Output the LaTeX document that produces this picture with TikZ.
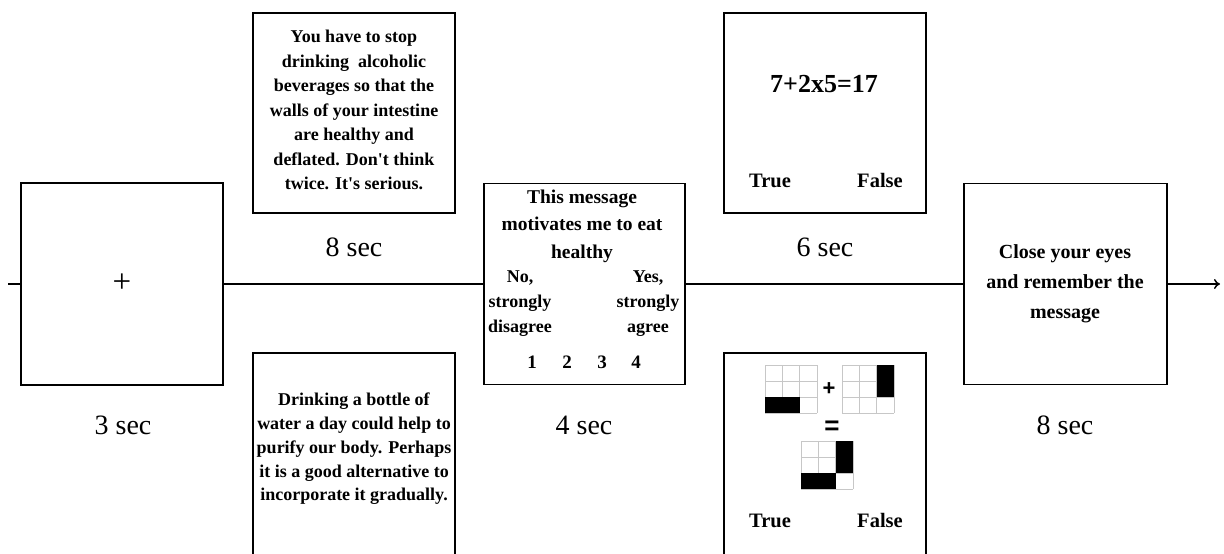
\documentclass[tikz,border=0pt]{standalone}
\usepackage{fontspec}
\setmainfont{Liberation Serif}
\newfontfamily\symfam{Liberation Sans}
\usetikzlibrary{arrows.meta}
\begin{document}
\begin{tikzpicture}[x=1pt,y=-1pt,
  frame/.style={draw,line width=1.9pt,inner sep=0pt},
  msg/.style={font=\bfseries\fontsize{18}{24.5}\selectfont,align=center,inner sep=0pt},
  lab/.style={font=\bfseries\fontsize{18}{25}\selectfont,align=center,inner sep=0pt},
  tf/.style={font=\bfseries\fontsize{20.5}{24}\selectfont,inner sep=0pt},
  dur/.style={font=\fontsize{28}{30}\selectfont,inner sep=0pt},
  conn/.style={line width=1.5pt},
  gridline/.style={draw=black!22,line width=1pt}]
\useasboundingbox (0,0) rectangle (1224,554);
\clip (0,0) rectangle (1224,554);

% frames
\node[frame,minimum width=202pt,minimum height=202pt] (fix) at (122,284) {};
\node[frame,minimum width=202pt,minimum height=200pt] (top) at (354,113) {};
\node[frame,minimum width=202pt,minimum height=203pt] (bot) at (354,454.5) {};
\node[frame,minimum width=201pt,minimum height=201pt] (rate) at (584.5,284) {};
\node[frame,minimum width=202pt,minimum height=200pt] (math) at (825,113) {};
\node[frame,minimum width=202pt,minimum height=203pt] (grids) at (825,454.5) {};
\node[frame,minimum width=203pt,minimum height=201pt] (close) at (1065.5,284) {};

% connectors
\coordinate (start) at (8,284);
\coordinate (end) at (1220,284);
\draw[conn] (start) -- (fix.west);
\draw[conn] (fix.east) -- (rate.west);
\draw[conn] (rate.east) -- (close.west);
\draw[conn,-{To[length=6pt,width=10pt]}] (close.east) -- (end);

% fixation
\node[dur,font=\fontsize{33}{34}\selectfont] (plus) at (122,283) {+};

% message boxes
\node[msg] (topt) at (354,110) {You have to stop\\drinking\ \ alcoholic\\beverages so that the\\walls of your intestine\\are healthy and\\deflated. Don\textquotesingle t think\\twice. It\textquotesingle s serious.};
\node[msg,font=\bfseries\fontsize{18}{23.75}\selectfont] (bott) at (354,449) {Drinking a bottle of\\water a day could help to\\purify our body. Perhaps\\it is a good alternative to\\incorporate it gradually.};

% rating box
\node[msg,font=\bfseries\fontsize{19.5}{27.5}\selectfont] (rhead) at (582,226) {This message\\motivates me to eat\\healthy};
\node[lab] (rno) at (520,304) {No,\\strongly\\disagree};
\node[lab] (ryes) at (648,304) {Yes,\\strongly\\agree};
\node[tf,font=\bfseries\fontsize{19}{24}\selectfont] (r1) at (532,362) {1};
\node[tf,font=\bfseries\fontsize{19}{24}\selectfont] (r2) at (567,362) {2};
\node[tf,font=\bfseries\fontsize{19}{24}\selectfont] (r3) at (602,362) {3};
\node[tf,font=\bfseries\fontsize{19}{24}\selectfont] (r4) at (636,362) {4};

% math box
\node[tf,font=\bfseries\fontsize{26}{28}\selectfont] (eq) at (824,84) {7+2x5=17};
\node[tf,anchor=base] (mtrue) at (770,187) {True};
\node[tf,anchor=base] (mfalse) at (880,187) {False};

% grid task
\foreach \i in {0,1,2,3} {
  \draw[gridline] (765+\i*17.333,365) -- ++(0,48);
  \draw[gridline] (765,365+\i*16) -- ++(52,0);
  \draw[gridline] (842+\i*17.333,365) -- ++(0,48);
  \draw[gridline] (842,365+\i*16) -- ++(52,0);
  \draw[gridline] (801+\i*17.333,441) -- ++(0,48);
  \draw[gridline] (801,441+\i*16) -- ++(52,0);
}
\fill (765,397) rectangle (799.67,413);
\fill (876.67,365) rectangle (894,397);
\fill (835.67,441) rectangle (853,473);
\fill (801,473) rectangle (835.67,489);
\node[font=\symfam\bfseries\fontsize{22}{24}\selectfont,inner sep=0pt] (gplus) at (829,389) {+};
\node[font=\symfam\bfseries\fontsize{26}{28}\selectfont,inner sep=0pt] (geq) at (832,428) {=};
\node[tf,anchor=base] (gtrue) at (770,527) {True};
\node[tf,anchor=base] (gfalse) at (880,527) {False};

% close eyes
\node[msg,font=\bfseries\fontsize{20}{30}\selectfont] (closet) at (1065,284) {Close your eyes\\and remember the\\message};

% durations
\node[dur] (d1) at (123,425) {3 sec};
\node[dur] (d2) at (354,247) {8 sec};
\node[dur] (d3) at (584,425) {4 sec};
\node[dur] (d4) at (825,247) {6 sec};
\node[dur] (d5) at (1065,425) {8 sec};
\end{tikzpicture}
\end{document}
